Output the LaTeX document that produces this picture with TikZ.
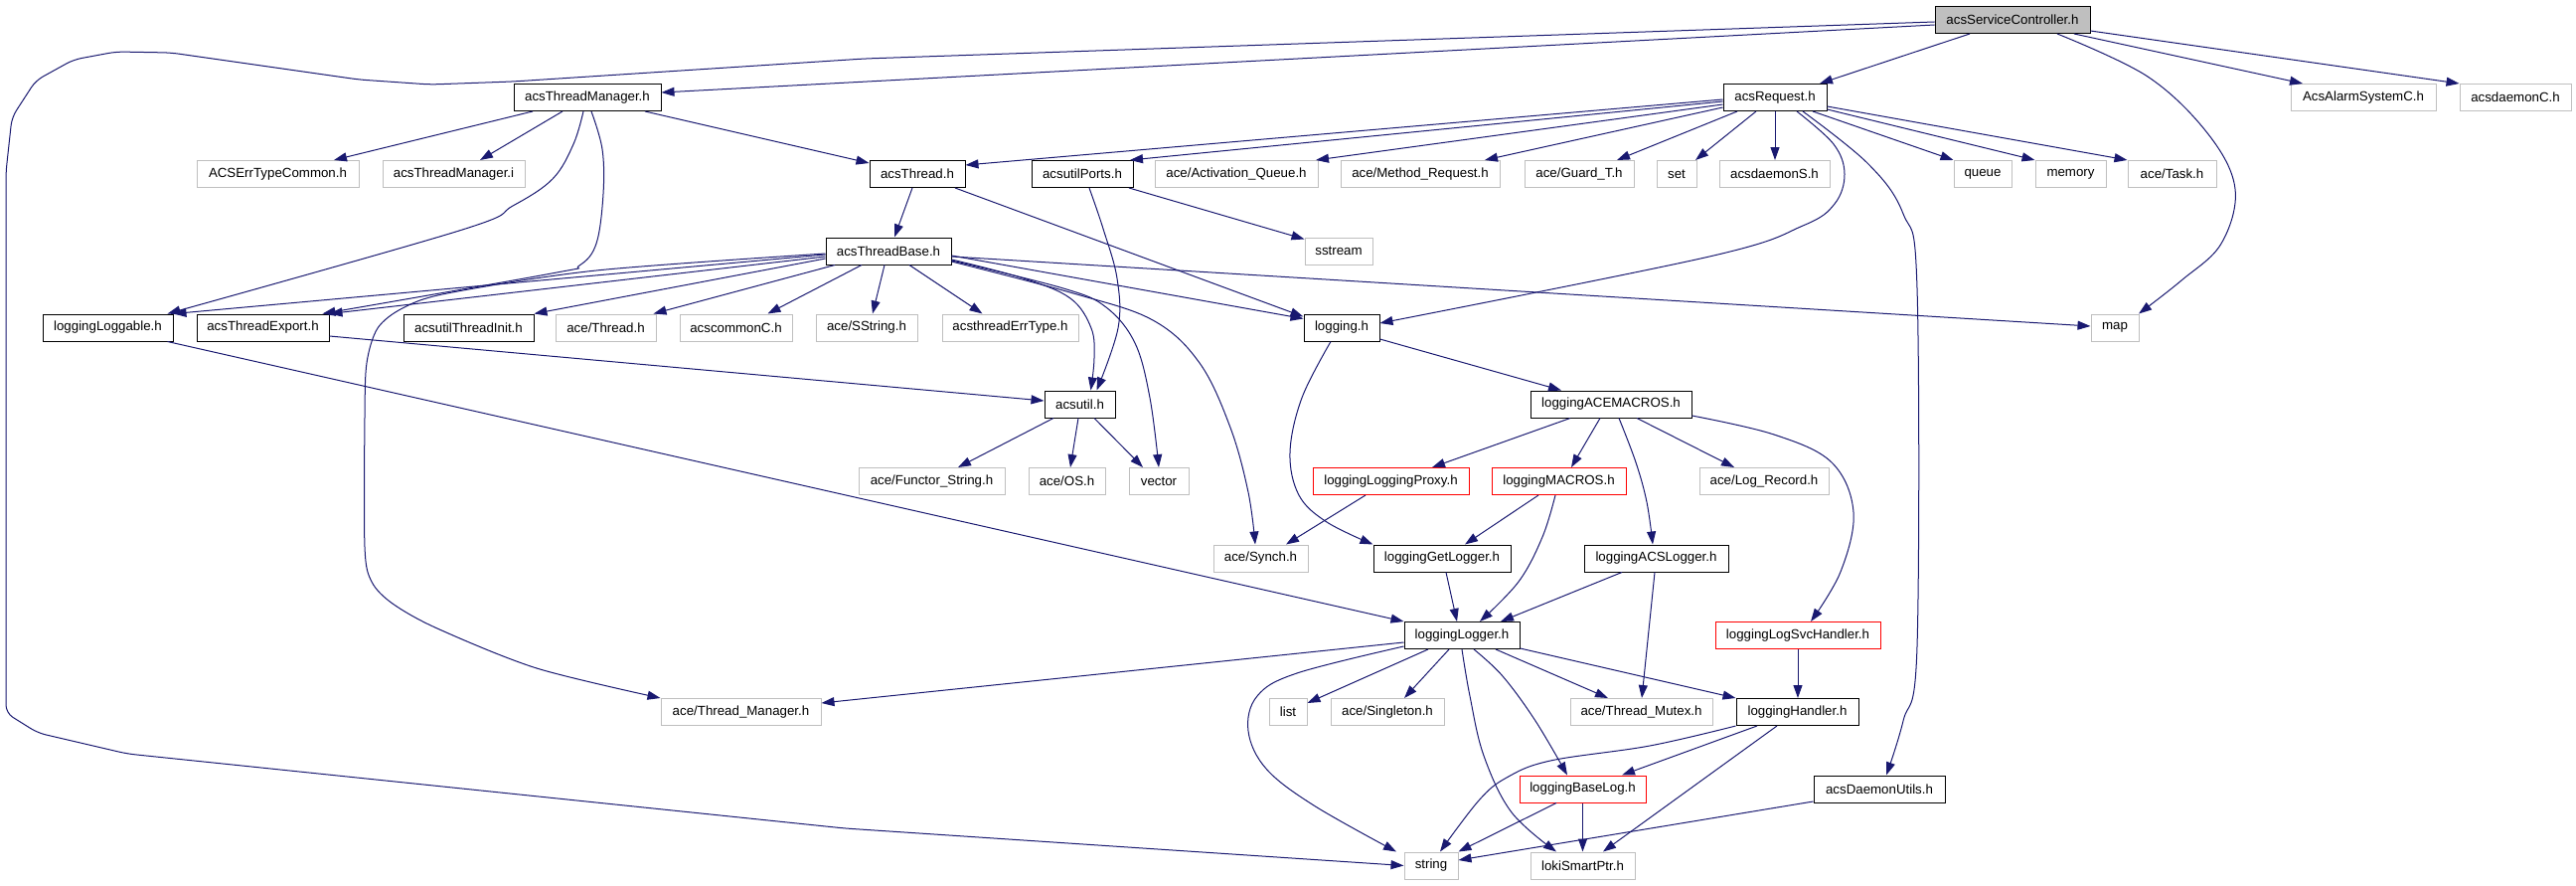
\documentclass[tikz,border=0pt]{standalone}
\usepackage{fontspec}
\setmainfont{Liberation Sans}
\usetikzlibrary{arrows.meta}
\definecolor{edgec}{HTML}{191970}
\definecolor{gbord}{HTML}{BFBFBF}
\definecolor{rootfill}{HTML}{BFBFBF}
\begin{document}
\begin{tikzpicture}[x=1pt,y=-1pt,
  box/.style={draw, line width=1pt, fill=white, inner sep=0pt, minimum height=27pt, font=\fontsize{13.3pt}{15pt}\selectfont, anchor=center},
  blk/.style={box, draw=black},
  gry/.style={box, draw=gbord},
  redbox/.style={box, draw=red},
  rootbox/.style={box, draw=black, fill=rootfill},
  edge/.style={draw=edgec, line width=1pt, -{Triangle[length=13pt,width=9pt]}},
  sm/.style={smooth, tension=0.6}]
\useasboundingbox (0,0) rectangle (2592,891);
% nodes
\node[rootbox, minimum width=156pt] (root) at (2025,20) {acsServiceController.h};
\node[blk, minimum width=148pt] (tm) at (591,98) {acsThreadManager.h};
\node[blk, minimum width=104pt] (req) at (1786,98) {acsRequest.h};
\node[gry, minimum width=146pt] (alarm) at (2378,98) {AcsAlarmSystemC.h};
\node[gry, minimum width=112pt] (daemonC) at (2531,98) {acsdaemonC.h};
\node[gry, minimum width=163pt] (errc) at (279.5,175) {ACSErrTypeCommon.h};
\node[gry, minimum width=143pt] (tmi) at (456.5,175) {acsThreadManager.i};
\node[blk, minimum width=96pt] (thread) at (923,175) {acsThread.h};
\node[blk, minimum width=102pt] (ports) at (1089,175) {acsutilPorts.h};
\node[gry, minimum width=164pt] (actq) at (1244,175) {ace/Activation\_Queue.h};
\node[gry, minimum width=160pt] (methreq) at (1429,175) {ace/Method\_Request.h};
\node[gry, minimum width=110pt] (guard) at (1589,175) {ace/Guard\_T.h};
\node[gry, minimum width=40pt] (set) at (1687,175) {set};
\node[gry, minimum width=111pt] (daemonS) at (1785.5,175) {acsdaemonS.h};
\node[gry, minimum width=58pt] (queue) at (1995,175) {queue};
\node[gry, minimum width=71pt] (memory) at (2083.5,175) {memory};
\node[gry, minimum width=89pt] (task) at (2185.5,175) {ace/Task.h};
\node[blk, minimum width=126pt] (base) at (894,252.5) {acsThreadBase.h};
\node[gry, minimum width=68pt] (sstream) at (1347,252.5) {sstream};
\node[blk, minimum width=131pt] (loggable) at (108.5,329.5) {loggingLoggable.h};
\node[blk, minimum width=133pt] (export) at (264.5,329.5) {acsThreadExport.h};
\node[blk, minimum width=131pt] (tinit) at (471.5,329.5) {acsutilThreadInit.h};
\node[gry, minimum width=101pt] (acethread) at (609.5,329.5) {ace/Thread.h};
\node[gry, minimum width=113pt] (common) at (740.5,329.5) {acscommonC.h};
\node[gry, minimum width=102pt] (sstring) at (872,329.5) {ace/SString.h};
\node[gry, minimum width=137pt] (errtype) at (1016.5,329.5) {acsthreadErrType.h};
\node[blk, minimum width=76pt] (logging) at (1350,329.5) {logging.h};
\node[gry, minimum width=48pt] (map) at (2128,329.5) {map};
\node[blk, minimum width=71pt] (acsutil) at (1086.5,406.5) {acsutil.h};
\node[blk, minimum width=162pt] (acemac) at (1621,406.5) {loggingACEMACROS.h};
\node[gry, minimum width=147pt] (functor) at (937.5,484) {ace/Functor\_String.h};
\node[gry, minimum width=77pt] (os) at (1073.5,484) {ace/OS.h};
\node[gry, minimum width=60pt] (vector) at (1166,484) {vector};
\node[redbox, minimum width=157pt] (proxy) at (1399.5,484) {loggingLoggingProxy.h};
\node[redbox, minimum width=135pt] (macros) at (1568.5,484) {loggingMACROS.h};
\node[gry, minimum width=130pt] (logrec) at (1775,484) {ace/Log\_Record.h};
\node[gry, minimum width=95pt] (synch) at (1268.5,561.5) {ace/Synch.h};
\node[blk, minimum width=138pt] (getlog) at (1451,561.5) {loggingGetLogger.h};
\node[blk, minimum width=145pt] (acslog) at (1666.5,561.5) {loggingACSLogger.h};
\node[blk, minimum width=116pt] (logger) at (1471,639) {loggingLogger.h};
\node[redbox, minimum width=166pt] (svc) at (1809,639) {loggingLogSvcHandler.h};
\node[gry, minimum width=161pt] (tmgr) at (745.5,716) {ace/Thread\_Manager.h};
\node[gry, minimum width=38pt] (list) at (1296,716) {list};
\node[gry, minimum width=114pt] (singleton) at (1396,716) {ace/Singleton.h};
\node[gry, minimum width=143pt] (mutex) at (1651.5,716) {ace/Thread\_Mutex.h};
\node[blk, minimum width=123pt] (handler) at (1808.5,716) {loggingHandler.h};
\node[redbox, minimum width=127pt] (baselog) at (1592.5,793.5) {loggingBaseLog.h};
\node[blk, minimum width=132pt] (dutils) at (1891,793.5) {acsDaemonUtils.h};
\node[gry, minimum width=54pt] (string) at (1440,870.5) {string};
\node[gry, minimum width=105pt] (loki) at (1592.5,870.5) {lokiSmartPtr.h};
% edges from acsServiceController.h
\draw[edge] ([yshift=-5pt]root.west) -- ([yshift=5pt]tm.east);
\draw[edge, rounded corners=8pt] ([yshift=-2pt]root.west) -- (870,59) -- (516,82) -- (433,85) -- (361,80) -- (172,53) -- (117,52) -- (74,60) -- (36,81) -- (12,118) -- (6,173) -- (6,717) -- (38,737) -- (128,758) -- (850,833) -- (string.west);
\draw[edge] ([xshift=-43pt]root.south) -- ([xshift=45pt]req.north);
\draw[edge] plot[sm] coordinates {([xshift=45pt]root.south) (2161,77) (2222,135) (2249,190) (2235,245) (2195,282) ([xshift=24pt]map.north)};
\draw[edge] ([xshift=62pt]root.south) -- ([xshift=-61pt]alarm.north);
\draw[edge] ([yshift=-11pt]root.east) -- (daemonC.north west);
% acsThreadManager.h
\draw[edge] ([xshift=-55pt]tm.south) -- ([xshift=56.5pt]errc.north);
\draw[edge] ([xshift=-25pt]tm.south) -- ([xshift=26.5pt]tmi.north);
\draw[edge] ([xshift=58pt]tm.south) -- ([yshift=11pt]thread.west);
\draw[edge] plot[sm] coordinates {([xshift=-4pt]tm.south) (577,145) (556,180) (516,207) (462,232) ([xshift=60pt]loggable.north)};
\draw[edge] plot[sm] coordinates {([xshift=4pt]tm.south) (606,150) (607,195) (600,245) (583,267) (555,275) ([xshift=60pt]export.north)};
% acsRequest.h
\draw[edge] ([yshift=-2pt]req.west) -- ([yshift=9pt]thread.east);
\draw[edge] ([yshift=-4pt]req.west) -- ([xshift=48pt]ports.north);
\draw[edge] ([yshift=-7pt]req.west) -- ([xshift=80pt]actq.north);
\draw[edge] ([yshift=-10pt]req.west) -- ([xshift=65pt]methreq.north);
\draw[edge] ([xshift=-38pt]req.south) -- ([xshift=38pt]guard.north);
\draw[edge] ([xshift=-19pt]req.south) -- ([xshift=19pt]set.north);
\draw[edge] (req.south) -- (req.south |- daemonS.north);
\draw[edge] ([xshift=38pt]req.south) -- (queue.north west);
\draw[edge] ([yshift=-12pt]req.east) -- (memory.north west);
\draw[edge] ([yshift=-9pt]req.east) -- (task.north west);
\draw[edge] plot[sm] coordinates {([xshift=22pt]req.south) (1845,145) (1856,175) (1846,205) (1814,227) (1720,258) ([yshift=4.5pt]logging.east)};
\draw[edge] plot[sm] coordinates {([xshift=28pt]req.south) (1880,165) (1915,215) (1929,290) (1929,650) (1915,725) ([xshift=7pt]dutils.north)};
% acsThread.h, acsutilPorts.h
\draw[edge] ([xshift=-5pt]thread.south) -- ([xshift=6pt]base.north);
\draw[edge] ([xshift=38pt]thread.south) -- ([yshift=11pt]logging.west);
\draw[edge] ([xshift=47pt]ports.south) -- ([yshift=12pt]sstream.west);
\draw[edge] plot[sm] coordinates {([xshift=7pt]ports.south) (1110,230) (1124,280) (1125,330) ([xshift=17pt]acsutil.north)};
% acsThreadBase.h
\draw[edge] ([yshift=-3.5pt]base.west) -- (loggable.north east);
\draw[edge] ([yshift=-5.5pt]base.west) -- (export.north east);
\draw[edge] ([yshift=-7.5pt]base.west) -- (tinit.north east);
\draw[edge] ([xshift=-54pt]base.south) -- ([xshift=48pt]acethread.north);
\draw[edge] ([xshift=-27pt]base.south) -- ([xshift=32pt]common.north);
\draw[edge] ([xshift=-4pt]base.south) -- ([xshift=6pt]sstring.north);
\draw[edge] ([xshift=21pt]base.south) -- ([xshift=-28pt]errtype.north);
\draw[edge] plot[smooth, tension=0.5] coordinates {([yshift=-2.5pt]base.west) (600,272) (450,295) (405,310) (380,330) (369,365) (367,420) (367,550) (374,585) (395,607) (440,632) (540,672) (tmgr.north west)};
\draw[edge] plot[sm] coordinates {([yshift=-8.5pt]base.east) (1030,280) (1077,300) (1098,330) (1101,360) ([xshift=11pt]acsutil.north)};
\draw[edge] plot[sm] coordinates {([yshift=-9.5pt]base.east) (1070,290) (1113,309) (1142,345) (1157,400) (vector.north)};
\draw[edge] plot[sm] coordinates {([yshift=-10.5pt]base.east) (1080,295) (1160,322) (1207,365) (1238,430) (1256,495) ([xshift=-5.5pt]synch.north)};
\draw[edge] ([yshift=-4.5pt]base.east) -- ([yshift=9pt]logging.west);
\draw[edge] ([yshift=-5.5pt]base.east) -- ([yshift=1.5pt]map.west);
% loggable, export
\draw[edge] ([xshift=60pt]loggable.south) -- (logger.north west);
\draw[edge] ([yshift=-8.5pt]export.east) -- ([yshift=3.5pt]acsutil.west);
% logging.h
\draw[edge] ([yshift=-11.5pt]logging.east) -- ([xshift=-50pt]acemac.north);
\draw[edge] plot[sm] coordinates {([xshift=-11pt]logging.south) (1310,400) (1298,455) (1307,498) (1335,525) (getlog.north west)};
% acsutil.h
\draw[edge] ([xshift=-26.5pt]acsutil.south) -- ([xshift=26.5pt]functor.north);
\draw[edge] ([xshift=-1.5pt]acsutil.south) -- ([xshift=3.5pt]os.north);
\draw[edge] ([xshift=14.5pt]acsutil.south) -- ([xshift=-16pt]vector.north);
% loggingACEMACROS.h
\draw[edge] ([xshift=-41pt]acemac.south) -- ([xshift=41.5pt]proxy.north);
\draw[edge] ([xshift=-11pt]acemac.south) -- ([xshift=12.5pt]macros.north);
\draw[edge] plot[sm] coordinates {([xshift=8pt]acemac.south) (1646,465) (1657,505) ([xshift=-3.5pt]acslog.north)};
\draw[edge] ([xshift=26pt]acemac.south) -- ([xshift=-30pt]logrec.north);
\draw[edge] plot[sm] coordinates {([yshift=-11.5pt]acemac.east) (1785,437) (1843,465) (1865,515) (1852,575) ([xshift=13pt]svc.north)};
% proxy, macros, getlogger, acslogger
\draw[edge] ([xshift=-25.5pt]proxy.south) -- ([xshift=25.5pt]synch.north);
\draw[edge] ([xshift=-20.5pt]macros.south) -- ([xshift=23pt]getlog.north);
\draw[edge] plot[sm] coordinates {([xshift=-3.5pt]macros.south) (1552,540) (1528,585) ([xshift=18pt]logger.north)};
\draw[edge] ([xshift=4pt]getlog.south) -- ([xshift=-5pt]logger.north);
\draw[edge] ([xshift=-34.5pt]acslog.south) -- ([xshift=39pt]logger.north);
\draw[edge] ([xshift=-1.5pt]acslog.south) -- ([xshift=0.5pt]mutex.north);
% loggingLogger.h
\draw[edge] ([yshift=-7pt]logger.west) -- ([yshift=9pt]tmgr.east);
\draw[edge] plot[sm] coordinates {([yshift=-11pt]logger.west) (1305,677) (1265,700) (1256,735) (1274,773) (1322,810) ([xshift=-35pt]string.north)};
\draw[edge] ([xshift=-34pt]logger.south) -- ([yshift=9pt]list.east);
\draw[edge] ([xshift=-13pt]logger.south) -- ([xshift=17pt]singleton.north);
\draw[edge] plot[sm] coordinates {(logger.south) (1479,700) (1493,760) (1521,817) ([xshift=-26.5pt]loki.north)};
\draw[edge] plot[sm] coordinates {([xshift=12pt]logger.south) (1512,680) (1545,725) ([xshift=-15.5pt]baselog.north)};
\draw[edge] ([xshift=34pt]logger.south) -- ([xshift=-33.5pt]mutex.north);
\draw[edge] ([yshift=-13pt]logger.east) -- (handler.north west);
% handlers, baselog, daemon utils
\draw[edge] (svc.south) -- (svc.south |- handler.north);
\draw[edge] ([xshift=-40.5pt]handler.south) -- ([xshift=39.5pt]baselog.north);
\draw[edge] plot[sm] coordinates {(handler.south west) (1660,750) (1560,765) (1516,782) (1488,805) ([xshift=9pt]string.north)};
\draw[edge] ([xshift=-20.5pt]handler.south) -- ([xshift=20.5pt]loki.north);
\draw[edge] ([xshift=-26.5pt]baselog.south) -- (string.north east);
\draw[edge] (baselog.south) -- (loki.north);
\draw[edge] ([yshift=-12.5pt]dutils.west) -- ([yshift=5.5pt]string.east);
\end{tikzpicture}
\end{document}
